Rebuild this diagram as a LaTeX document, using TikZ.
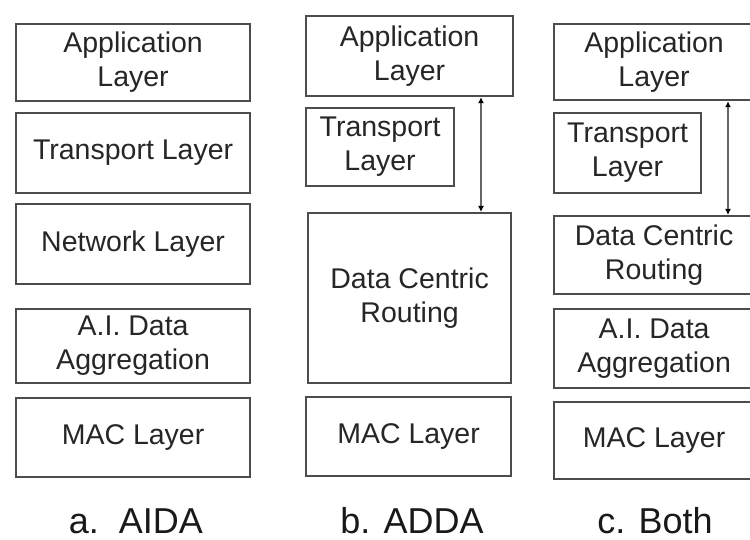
\documentclass[tikz,border=0pt]{standalone}
\usepackage{fontspec}
\setmainfont{Liberation Sans}
\usetikzlibrary{arrows.meta}

\tikzset{
  layer/.style={draw=black!70,line width=2.2pt,anchor=north west,inner sep=0pt,align=center,
    text=black!85,font=\fontsize{28.5}{34}\selectfont},
  caption/.style={anchor=base,inner sep=0pt,text=black!90,font=\fontsize{36}{40}\selectfont},
  link/.style={draw=black!60,line width=1.5pt,{Latex[length=6pt,width=6pt,black]}-{Latex[length=6pt,width=6pt,black]}}
}

\begin{document}
\begin{tikzpicture}[x=1pt,y=-1pt]
\path[use as bounding box] (0,0) rectangle (750,540);
\clip (0,0) rectangle (750,540);
% a. AIDA
\node[layer,minimum width=234pt,minimum height=77pt] (aapp) at (15,23) {Application\\Layer};
\node[layer,minimum width=234pt,minimum height=80pt] (atra) at (15,112) {Transport Layer};
\node[layer,minimum width=234pt,minimum height=80pt] (anet) at (15,203) {Network Layer};
\node[layer,minimum width=234pt,minimum height=74pt] (aaia) at (15,308) {A.I. Data\\Aggregation};
\node[layer,minimum width=234pt,minimum height=79pt] (amac) at (15,397) {MAC Layer};
% b. ADDA
\node[layer,minimum width=207pt,minimum height=80pt] (bapp) at (305,15) {Application\\Layer};
\node[layer,minimum width=148pt,minimum height=78pt] (btra) at (305,107) {Transport\\Layer};
\node[layer,minimum width=203pt,minimum height=170pt] (bdcr) at (307,212) {Data Centric\\Routing};
\node[layer,minimum width=205pt,minimum height=79pt] (bmac) at (305,396) {MAC Layer};
\coordinate (bax) at (481,0);
\draw[link] (bapp.south -| bax) -- (bdcr.north -| bax);
% c. Both
\node[layer,minimum width=200pt,minimum height=76pt] (capp) at (553,23) {Application\\Layer};
\node[layer,minimum width=147pt,minimum height=80pt] (ctra) at (553,112) {Transport\\Layer};
\node[layer,minimum width=200pt,minimum height=78pt] (cdcr) at (553,215) {Data Centric\\Routing};
\node[layer,minimum width=200pt,minimum height=79pt] (caia) at (553,308) {A.I. Data\\Aggregation};
\node[layer,minimum width=200pt,minimum height=77pt] (cmac) at (553,401) {MAC Layer};
\coordinate (cax) at (728,0);
\draw[link] (capp.south -| cax) -- (cdcr.north -| cax);
% captions
\node[caption] (acap) at (136,533) {a.\ \ AIDA};
\node[caption] (bcap) at (412,533) {b. ADDA};
\node[caption] (ccap) at (655,533) {c. Both};
\end{tikzpicture}
\end{document}
